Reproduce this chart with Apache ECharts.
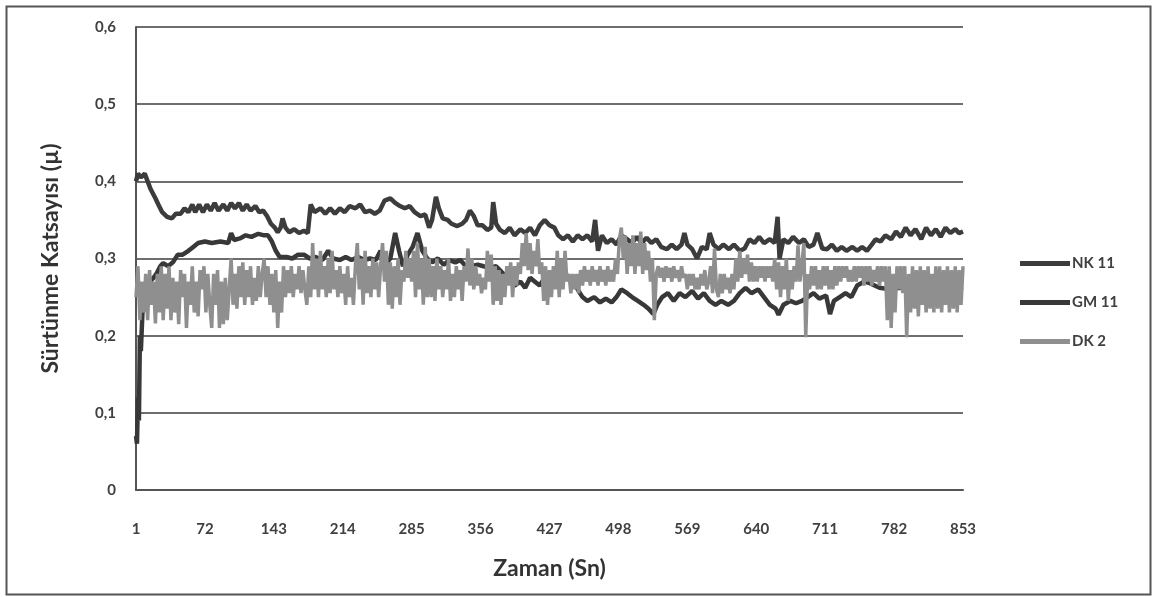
<!DOCTYPE html>
<html>
<head>
<meta charset="utf-8">
<script src="https://cdn.jsdelivr.net/npm/echarts@6/dist/echarts.min.js"></script>
<style>
html,body{margin:0;padding:0;background:#fff;}
#chart{width:1153px;height:597px;}
</style>
</head>
<body>
<div id="chart"></div>
<script>
// x tick labels (seconds) and y tick values
const xTicks = [1, 72, 143, 214, 285, 356, 427, 498, 569, 640, 711, 782, 853];
const yTicks = [0, 0.1, 0.2, 0.3, 0.4, 0.5, 0.6];
const seriesNames = ['NK 11', 'GM 11', 'DK 2'];

// [time (s), friction coefficient]
const nkData = [[1,0.40],[3,0.41],[6,0.405],[10,0.41],[13,0.40],[16,0.39],[21,0.378],[24,0.37],[28,0.36],[33,0.354],[38,0.352],[42,0.358],[47,0.358],[51,0.365],[55,0.36],[59,0.37],[62,0.36],[66,0.37],[70,0.36],[74,0.37],[78,0.362],[82,0.372],[86,0.362],[91,0.37],[95,0.362],[99,0.372],[103,0.365],[107,0.372],[111,0.362],[115,0.37],[119,0.362],[124,0.368],[128,0.36],[132,0.362],[136,0.355],[140,0.345],[144,0.34],[147,0.334],[150,0.34],[152,0.352],[155,0.34],[159,0.334],[164,0.338],[169,0.333],[174,0.336],[178,0.333],[181,0.37],[185,0.36],[191,0.365],[196,0.358],[201,0.365],[206,0.358],[211,0.365],[216,0.36],[221,0.368],[227,0.365],[232,0.37],[237,0.36],[242,0.362],[247,0.358],[252,0.362],[257,0.375],[263,0.378],[268,0.372],[273,0.368],[278,0.365],[283,0.368],[288,0.36],[294,0.355],[299,0.357],[303,0.34],[306,0.35],[310,0.38],[313,0.365],[317,0.352],[322,0.35],[326,0.345],[332,0.342],[337,0.345],[341,0.35],[345,0.362],[349,0.355],[353,0.343],[358,0.343],[363,0.337],[367,0.34],[369,0.373],[372,0.345],[376,0.337],[381,0.333],[386,0.34],[391,0.33],[397,0.338],[402,0.333],[407,0.34],[412,0.33],[417,0.343],[422,0.35],[427,0.343],[432,0.34],[436,0.33],[441,0.325],[446,0.33],[451,0.322],[456,0.33],[461,0.325],[466,0.33],[471,0.322],[474,0.35],[477,0.31],[481,0.33],[486,0.32],[491,0.325],[496,0.318],[501,0.33],[507,0.325],[512,0.32],[517,0.328],[522,0.32],[527,0.327],[532,0.32],[537,0.325],[542,0.315],[548,0.312],[553,0.318],[558,0.312],[563,0.318],[566,0.333],[569,0.318],[574,0.312],[579,0.30],[584,0.315],[589,0.312],[592,0.333],[596,0.318],[601,0.312],[606,0.318],[612,0.312],[617,0.318],[623,0.31],[628,0.313],[633,0.325],[638,0.32],[643,0.328],[648,0.32],[654,0.325],[659,0.32],[662,0.354],[664,0.30],[668,0.325],[673,0.32],[678,0.328],[684,0.32],[689,0.325],[694,0.315],[699,0.318],[703,0.333],[708,0.313],[713,0.312],[718,0.318],[723,0.31],[728,0.315],[733,0.31],[739,0.315],[744,0.31],[749,0.315],[754,0.31],[759,0.318],[763,0.325],[768,0.322],[773,0.33],[779,0.325],[784,0.335],[789,0.328],[794,0.34],[799,0.33],[804,0.338],[810,0.325],[815,0.34],[820,0.33],[825,0.338],[830,0.328],[835,0.34],[840,0.333],[845,0.338],[849,0.333],[853,0.335]];

const gmData = [[1,0.07],[2,0.06],[3,0.12],[4,0.09],[5,0.20],[6,0.18],[8,0.24],[10,0.26],[12,0.27],[15,0.27],[19,0.275],[22,0.28],[26,0.29],[29,0.294],[34,0.29],[39,0.295],[44,0.305],[49,0.305],[55,0.31],[60,0.315],[65,0.32],[72,0.322],[79,0.32],[88,0.322],[96,0.32],[99,0.333],[102,0.324],[108,0.326],[114,0.33],[120,0.328],[127,0.332],[133,0.33],[137,0.33],[141,0.322],[145,0.31],[149,0.302],[156,0.302],[162,0.30],[168,0.305],[174,0.305],[180,0.30],[186,0.302],[193,0.298],[199,0.31],[204,0.30],[211,0.298],[217,0.302],[223,0.298],[230,0.302],[236,0.298],[242,0.30],[248,0.298],[253,0.31],[257,0.29],[263,0.30],[268,0.333],[272,0.31],[276,0.29],[281,0.305],[286,0.315],[291,0.333],[296,0.31],[301,0.30],[306,0.295],[312,0.30],[318,0.292],[324,0.298],[330,0.295],[335,0.298],[341,0.29],[347,0.29],[353,0.292],[359,0.29],[366,0.288],[372,0.29],[378,0.282],[384,0.275],[391,0.265],[397,0.27],[402,0.262],[407,0.275],[412,0.27],[417,0.265],[422,0.275],[427,0.265],[434,0.27],[440,0.275],[446,0.278],[451,0.27],[456,0.26],[461,0.25],[466,0.245],[473,0.25],[479,0.243],[485,0.248],[491,0.243],[496,0.25],[501,0.26],[507,0.255],[512,0.25],[518,0.245],[524,0.24],[529,0.235],[534,0.228],[538,0.24],[543,0.25],[549,0.255],[555,0.245],[561,0.255],[567,0.25],[574,0.258],[580,0.248],[586,0.255],[592,0.245],[598,0.24],[604,0.245],[611,0.24],[617,0.245],[623,0.255],[629,0.262],[635,0.255],[642,0.26],[648,0.25],[654,0.24],[660,0.235],[663,0.227],[668,0.24],[675,0.245],[681,0.242],[687,0.245],[693,0.25],[699,0.255],[705,0.248],[712,0.252],[716,0.228],[720,0.245],[726,0.25],[732,0.255],[738,0.25],[744,0.265],[751,0.27],[757,0.268],[767,0.262],[778,0.26],[788,0.262],[798,0.26],[808,0.262],[819,0.26],[829,0.262],[839,0.26],[853,0.263]];

const dkData = [[1,0.25],[3,0.29],[5,0.22],[7,0.27],[9,0.23],[11,0.28],[13,0.22],[15,0.285],[17,0.24],[19,0.27],[21,0.216],[23,0.28],[25,0.23],[27,0.29],[29,0.22],[31,0.28],[33,0.235],[35,0.29],[37,0.22],[39,0.275],[41,0.23],[43,0.27],[45,0.215],[47,0.285],[49,0.25],[51,0.28],[53,0.21],[55,0.27],[57,0.24],[59,0.29],[61,0.23],[63,0.27],[65,0.225],[67,0.285],[69,0.26],[71,0.29],[73,0.23],[75,0.28],[77,0.24],[79,0.21],[81,0.28],[83,0.24],[85,0.285],[87,0.21],[89,0.27],[91,0.215],[93,0.275],[95,0.22],[97,0.26],[99,0.30],[101,0.24],[103,0.28],[105,0.235],[107,0.29],[109,0.25],[111,0.295],[113,0.24],[115,0.285],[117,0.25],[119,0.29],[121,0.24],[123,0.275],[125,0.245],[127,0.29],[129,0.25],[131,0.28],[133,0.30],[135,0.25],[137,0.29],[139,0.24],[141,0.28],[143,0.23],[145,0.285],[147,0.21],[149,0.27],[151,0.23],[153,0.29],[155,0.25],[157,0.285],[159,0.255],[161,0.29],[163,0.25],[165,0.28],[167,0.26],[169,0.29],[171,0.255],[173,0.285],[175,0.26],[177,0.24],[179,0.29],[181,0.25],[183,0.32],[185,0.26],[187,0.30],[189,0.25],[191,0.31],[193,0.26],[195,0.29],[197,0.25],[199,0.30],[201,0.255],[203,0.31],[205,0.26],[207,0.285],[209,0.25],[211,0.29],[213,0.255],[215,0.28],[217,0.24],[219,0.29],[221,0.25],[223,0.275],[225,0.24],[227,0.29],[229,0.32],[231,0.26],[233,0.30],[235,0.24],[237,0.31],[239,0.255],[241,0.29],[243,0.25],[245,0.30],[247,0.26],[249,0.295],[251,0.25],[253,0.29],[255,0.32],[257,0.27],[259,0.31],[261,0.24],[263,0.295],[265,0.235],[267,0.29],[269,0.25],[271,0.30],[273,0.24],[275,0.285],[277,0.27],[279,0.31],[281,0.275],[283,0.30],[285,0.27],[287,0.31],[289,0.25],[291,0.32],[293,0.26],[295,0.30],[297,0.24],[299,0.315],[301,0.25],[303,0.30],[305,0.25],[307,0.29],[309,0.245],[311,0.30],[313,0.26],[315,0.29],[317,0.25],[319,0.285],[321,0.26],[323,0.30],[325,0.245],[327,0.28],[329,0.25],[331,0.29],[333,0.26],[335,0.285],[337,0.245],[339,0.29],[341,0.27],[343,0.313],[345,0.265],[347,0.30],[349,0.26],[351,0.29],[353,0.265],[355,0.28],[357,0.255],[359,0.275],[361,0.26],[363,0.31],[365,0.27],[367,0.305],[369,0.24],[371,0.29],[373,0.245],[375,0.285],[377,0.24],[379,0.28],[381,0.25],[383,0.29],[385,0.265],[387,0.295],[389,0.25],[391,0.29],[393,0.265],[395,0.295],[397,0.28],[399,0.32],[401,0.29],[403,0.333],[405,0.285],[407,0.32],[409,0.28],[411,0.31],[413,0.29],[415,0.325],[417,0.28],[419,0.295],[421,0.245],[423,0.29],[425,0.24],[427,0.285],[429,0.25],[431,0.29],[433,0.26],[435,0.31],[437,0.25],[439,0.30],[441,0.26],[443,0.31],[445,0.27],[447,0.28],[449,0.255],[451,0.28],[453,0.26],[455,0.28],[457,0.255],[459,0.285],[461,0.265],[463,0.29],[465,0.27],[467,0.285],[469,0.265],[471,0.29],[473,0.27],[475,0.285],[477,0.265],[479,0.29],[481,0.27],[483,0.285],[485,0.265],[487,0.29],[489,0.27],[491,0.285],[493,0.27],[495,0.30],[497,0.28],[499,0.325],[501,0.34],[503,0.30],[505,0.33],[507,0.28],[509,0.32],[511,0.29],[513,0.33],[515,0.28],[517,0.32],[519,0.29],[521,0.335],[523,0.28],[525,0.32],[527,0.285],[529,0.31],[531,0.27],[533,0.30],[535,0.22],[537,0.28],[539,0.29],[541,0.275],[543,0.288],[545,0.27],[547,0.29],[549,0.275],[551,0.288],[553,0.27],[555,0.29],[557,0.275],[559,0.285],[561,0.27],[563,0.29],[565,0.275],[567,0.28],[569,0.26],[571,0.28],[573,0.265],[575,0.28],[577,0.26],[579,0.275],[581,0.26],[583,0.28],[585,0.265],[587,0.285],[589,0.26],[591,0.27],[593,0.29],[595,0.255],[597,0.313],[599,0.26],[601,0.25],[603,0.28],[605,0.255],[607,0.28],[609,0.26],[611,0.275],[613,0.255],[615,0.28],[617,0.26],[619,0.30],[621,0.27],[623,0.31],[625,0.275],[627,0.30],[629,0.28],[631,0.305],[633,0.27],[635,0.295],[637,0.27],[639,0.29],[641,0.27],[643,0.29],[645,0.275],[647,0.29],[649,0.27],[651,0.29],[653,0.275],[655,0.29],[657,0.27],[659,0.30],[661,0.26],[663,0.295],[665,0.25],[667,0.29],[669,0.26],[671,0.30],[673,0.245],[675,0.285],[677,0.26],[679,0.29],[681,0.27],[683,0.317],[685,0.27],[687,0.29],[689,0.32],[691,0.198],[693,0.28],[695,0.26],[697,0.29],[699,0.265],[701,0.29],[703,0.26],[705,0.285],[707,0.26],[709,0.29],[711,0.265],[713,0.29],[715,0.26],[717,0.285],[719,0.26],[721,0.29],[723,0.265],[725,0.29],[727,0.27],[729,0.29],[731,0.275],[733,0.29],[735,0.27],[737,0.285],[739,0.27],[741,0.29],[743,0.27],[745,0.29],[747,0.275],[749,0.29],[751,0.265],[753,0.29],[755,0.27],[757,0.29],[759,0.265],[761,0.285],[763,0.27],[765,0.29],[767,0.265],[769,0.29],[771,0.27],[773,0.29],[775,0.22],[777,0.29],[779,0.21],[781,0.28],[783,0.23],[785,0.29],[787,0.26],[789,0.29],[791,0.255],[793,0.29],[795,0.198],[797,0.28],[799,0.23],[801,0.29],[803,0.235],[805,0.285],[807,0.225],[809,0.29],[811,0.24],[813,0.285],[815,0.23],[817,0.29],[819,0.235],[821,0.28],[823,0.23],[825,0.29],[827,0.235],[829,0.29],[831,0.23],[833,0.285],[835,0.24],[837,0.29],[839,0.23],[841,0.285],[843,0.235],[845,0.29],[847,0.23],[849,0.285],[851,0.24],[853,0.29]];

const colors = ['#3c3c3c', '#383838', '#8f8f8f'];
const FONT = 'Lato, "Open Sans", sans-serif';

// axis runs on (t - first tick) so ticks fall on 1, 72, 143, ...
const t0 = xTicks[0];
const step = xTicks[1] - xTicks[0];
const span = xTicks[xTicks.length - 1] - t0;
const shift = d => d.map(p => [p[0] - t0, p[1]]);

const chart = echarts.init(document.getElementById('chart'), null, {renderer: 'canvas'});
chart.setOption({
  animation: false,
  backgroundColor: '#ffffff',
  graphic: [{
    type: 'rect', left: 4, top: 4, z: -1,
    shape: {width: 1144, height: 588},
    style: {fill: 'none', stroke: '#555555', lineWidth: 2}
  }],
  grid: {left: 136, right: 190, top: 27, bottom: 107, containLabel: false},
  legend: {
    orient: 'vertical', left: 1015, top: 251,
    itemWidth: 50, itemHeight: 5, itemGap: 24, icon: 'rect',
    textStyle: {fontFamily: FONT, fontSize: 15, fontWeight: 'bold', color: '#404040', padding: [0,0,0,-3]},
    data: seriesNames
  },
  xAxis: {
    type: 'value', min: 0, max: span, interval: step,
    name: 'Zaman (Sn)', nameLocation: 'middle', nameGap: 67,
    nameTextStyle: {fontFamily: FONT, fontSize: 23, fontWeight: 'bold', color: '#333333'},
    axisLine: {show: true, lineStyle: {color: '#555555', width: 2}},
    axisTick: {show: false},
    splitLine: {show: false},
    axisLabel: {
      margin: 32, fontFamily: FONT, fontSize: 15, fontWeight: 'bold', color: '#404040',
      formatter: v => String(xTicks[Math.round(v / step)])
    }
  },
  yAxis: {
    type: 'value', min: yTicks[0], max: yTicks[yTicks.length - 1], interval: yTicks[1] - yTicks[0],
    name: 'Sürtünme Katsayısı (µ)', nameLocation: 'middle', nameGap: 74,
    nameTextStyle: {fontFamily: FONT, fontSize: 23, fontWeight: 'bold', color: '#333333'},
    axisLine: {show: true, lineStyle: {color: '#555555', width: 2}},
    axisTick: {show: false},
    splitLine: {show: true, lineStyle: {color: '#6e6e6e', width: 2}},
    axisLabel: {
      margin: 20, fontFamily: FONT, fontSize: 15, fontWeight: 'bold', color: '#404040',
      formatter: v => v === 0 ? '0' : v.toFixed(1).replace('.', ',')
    }
  },
  series: [
    {name: seriesNames[0], type: 'line', data: shift(nkData), showSymbol: false, symbol: 'none',
     lineStyle: {color: colors[0], width: 4.5}, itemStyle: {color: colors[0]}, z: 2},
    {name: seriesNames[1], type: 'line', data: shift(gmData), showSymbol: false, symbol: 'none',
     lineStyle: {color: colors[1], width: 4.5}, itemStyle: {color: colors[1]}, z: 2},
    {name: seriesNames[2], type: 'line', data: shift(dkData), showSymbol: false, symbol: 'none',
     lineStyle: {color: colors[2], width: 3.5}, itemStyle: {color: colors[2]}, z: 3}
  ]
});
</script>
</body>
</html>
